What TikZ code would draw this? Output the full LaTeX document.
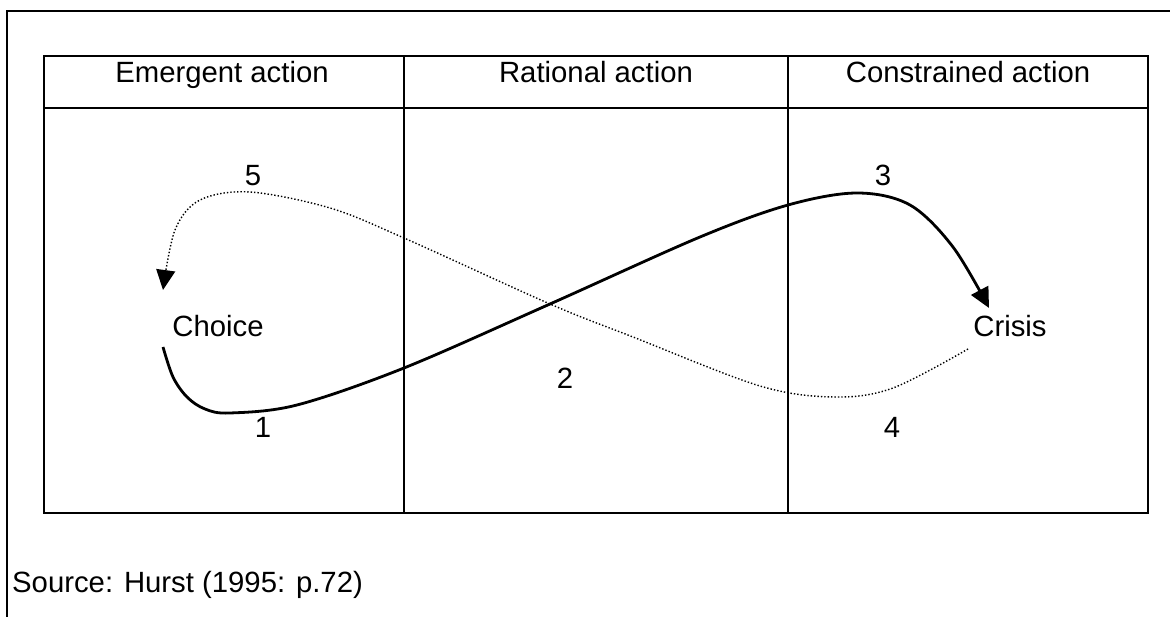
\documentclass[tikz,border=0pt]{standalone}
\usepackage{fontspec}
\setmainfont{Liberation Sans}
\usetikzlibrary{arrows.meta}
\begin{document}
\begin{tikzpicture}[x=1pt,y=-1pt,
  frameline/.style={line width=2.2pt},
  lbl/.style={inner sep=0pt, anchor=base, font=\fontsize{29.3}{35}\selectfont},
  solidflow/.style={line width=2.8pt, -{Triangle[length=20pt,width=19pt]}},
  dotflow/.style={line width=1.4pt, dash pattern=on 1.4pt off 2pt, -{Triangle[length=20pt,width=19pt]}}]
\useasboundingbox (0,0) rectangle (1170,617);
% outer frame
\draw[frameline] (7,617) -- (7,11) -- (1170,11);
% table
\draw[frameline] (44,56) rectangle (1148,513);
\draw[frameline] (44,108) -- (1148,108);
\draw[frameline] (404,56) -- (404,513);
\draw[frameline] (788,56) -- (788,513);
% headers
\node[lbl] (h1) at (222,83) {Emergent action};
\node[lbl] (h2) at (596,83) {Rational action};
\node[lbl] (h3) at (968,83) {Constrained action};
% main labels
\node[lbl] (choice) at (218,337) {Choice};
\node[lbl] (crisis) at (1010,337) {Crisis};
\node[lbl] (n1) at (263,438) {1};
\node[lbl] (n2) at (565,389) {2};
\node[lbl] (n3) at (883,186) {3};
\node[lbl] (n4) at (892,438) {4};
\node[lbl] (n5) at (253,186) {5};
\node[lbl, anchor=base west] (src) at (12,592) {Source: Hurst (1995: p.72)};
% connector end points
\coordinate (s1) at (163,347);
\coordinate (e1) at (989,308);
\coordinate (s2) at (968,349);
\coordinate (e2) at (163,290);
% solid flow: Choice -> Crisis
\draw[solidflow] plot[smooth, tension=0.55] coordinates {(s1) (173,377) (187,397) (205,409) (230,413) (297,405) (404,368) (550,304) (700,237) (788,205) (857,193) (910,205) (953,247) (e1)};
% dotted flow: Crisis -> Choice
\draw[dotflow] plot[smooth, tension=0.55] coordinates {(s2) (893,388) (835,397) (760,386) (633,337) (550,304) (404,238) (330,208) (250,192) (200,200) (175,230) (e2)};
\end{tikzpicture}
\end{document}
